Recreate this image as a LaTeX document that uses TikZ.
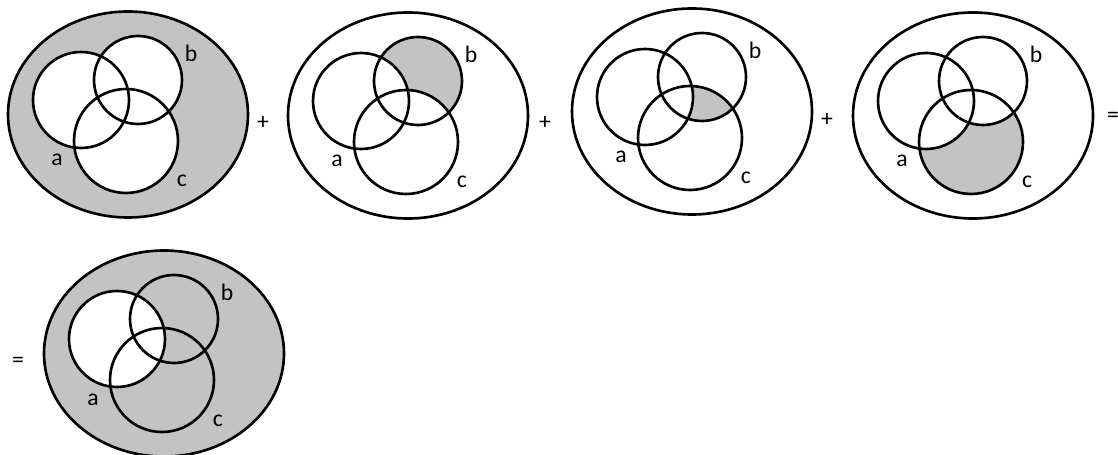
\documentclass[tikz,border=0pt]{standalone}
\usepackage{fontspec}
\setmainfont{Carlito}
\usepackage{tikz}
\usetikzlibrary{positioning}
\definecolor{shade}{HTML}{C3C3C3}
\definecolor{ink}{HTML}{000000}
\tikzset{
  outline/.style={draw=ink,line width=1.5pt},
  shaded/.style={fill=shade},
  blank/.style={fill=white},
  setlabel/.style={font=\fontsize{13.5}{16}\selectfont,text=ink,anchor=base,inner sep=0pt},
  op/.style={font=\fontsize{13.5}{16}\selectfont,text=ink,inner sep=0pt},
}

\begin{document}
\begin{tikzpicture}[x=0.02cm,y=0.02cm]
  \useasboundingbox (0,0) rectangle (1118,-455);
  \foreach \n/\dx/\dy/\mode in {1/0/0/0,2/280/1/1,3/564/-3/2,4/845/1/3,5/36/239/4}{
    \begin{scope}[shift={(\dx,-\dy)}]
      \coordinate (u\n) at (128,-114.5);
      \coordinate (ca\n) at (81,-100);
      \coordinate (cb\n) at (138,-80);
      \coordinate (cc\n) at (126,-141);
      \ifcase\mode
        \fill[shaded] (u\n) ellipse[x radius=120,y radius=103];
        \foreach \c/\r in {ca/48,cb/44,cc/52}{ \fill[blank] (\c\n) circle[radius=\r]; }
      \or
        \fill[shaded] (cb\n) circle[radius=44];
        \fill[blank] (ca\n) circle[radius=48];
        \fill[blank] (cc\n) circle[radius=52];
      \or
        \begin{scope}
          \clip (cb\n) circle[radius=44];
          \fill[shaded] (cc\n) circle[radius=52];
        \end{scope}
        \fill[blank] (ca\n) circle[radius=48];
      \or
        \fill[shaded] (cc\n) circle[radius=52];
        \fill[blank] (ca\n) circle[radius=48];
        \fill[blank] (cb\n) circle[radius=44];
      \else
        \fill[shaded] (u\n) ellipse[x radius=120,y radius=103];
        \fill[blank] (ca\n) circle[radius=48];
      \fi
      \draw[outline] (u\n) ellipse[x radius=120,y radius=103];
      \foreach \c/\r in {ca/48,cb/44,cc/52}{ \draw[outline] (\c\n) circle[radius=\r]; }
      \node[setlabel] (a\n) at (57,-166) {a};
      \node[setlabel] (b\n) at (191,-62) {b};
      \node[setlabel] (c\n) at (182,-187) {c};
    \end{scope}
  }
  \node[op] (plus1) at (263,-123) {+};
  \node[op] (plus2) at (545,-123) {+};
  \node[op] (plus3) at (827,-120) {+};
  \node[op] (eq1) at (1113,-117) {=};
  \node[op] (eq2) at (18,-362) {=};
\end{tikzpicture}
\end{document}
